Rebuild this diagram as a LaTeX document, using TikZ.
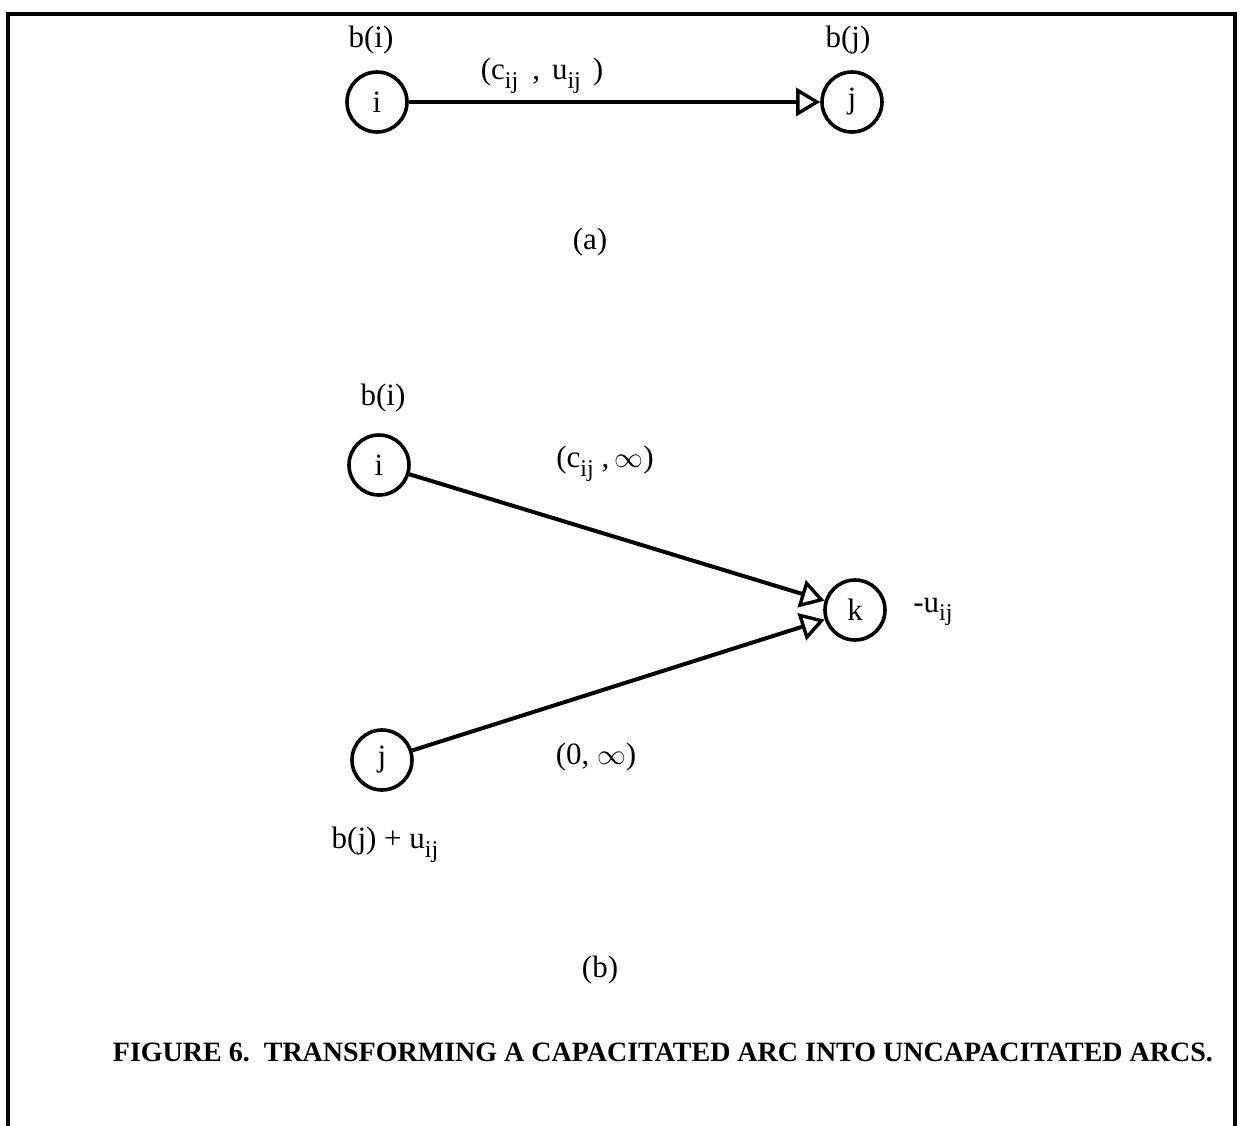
\documentclass[tikz,border=0pt]{standalone}
\usepackage{fontspec}
\setmainfont{Liberation Serif}
\usetikzlibrary{arrows.meta}
\newcommand\sbij{\raisebox{-0.6ex}{\fontsize{12}{14}\selectfont ij}}
\tikzset{
  vertex/.style={circle, draw, line width=1.8pt, minimum size=30pt, inner sep=0pt},
  arc/.style={line width=2pt, -{Triangle[open, length=12pt, width=14pt, line width=1.7pt]}},
  lbl/.style={font=\fontsize{15.5}{18}\selectfont, inner sep=0pt},
  frame/.style={line width=1.7pt}
}
\begin{document}
\begin{tikzpicture}[x=0.5pt, y=-0.5pt]
\useasboundingbox (0,0) rectangle (1239,1126);
\draw[frame] (8,1126) -- (8,14) -- (1235,14) -- (1235,1126);
% (a)
\node[vertex, lbl] (ia) at (377,102) {i};
\node[vertex, lbl] (ja) at (852,102) {j};
\draw[arc] (ia) -- (ja);
\node[lbl] (bia) at (371,40) {b(i)};
\node[lbl] (bja) at (848,40) {b(j)};
\node[lbl] (cua) at (542,76) {(c\sbij\hspace{7pt},\hspace{6pt}u\sbij\hspace{6pt})};
\node[lbl] (capa) at (590,242) {(a)};
% (b)
\node[vertex, lbl] (ib) at (379,465) {i};
\node[vertex, lbl] (k) at (855,610) {k};
\node[vertex, lbl] (jb) at (382,760) {j};
\draw[arc] (ib) -- (k);
\draw[arc] (jb) -- (k);
\node[lbl] (bib) at (383,398) {b(i)};
\node[lbl] (cib) at (605,464) {(c\sbij\hspace{4pt},\,$\infty$)};
\node[lbl] (uk) at (933,612) {-u\sbij};
\node[lbl] (zi) at (596,757) {(0, $\infty$)};
\node[lbl] (bjb) at (385,845) {b(j) + u\sbij};
\node[lbl] (capb) at (600,970) {(b)};
\node[font=\fontsize{14}{16}\selectfont\bfseries, inner sep=0pt] (cap) at (663,1052) {FIGURE 6.\ \ TRANSFORMING A CAPACITATED ARC INTO UNCAPACITATED ARCS.};
\end{tikzpicture}
\end{document}
